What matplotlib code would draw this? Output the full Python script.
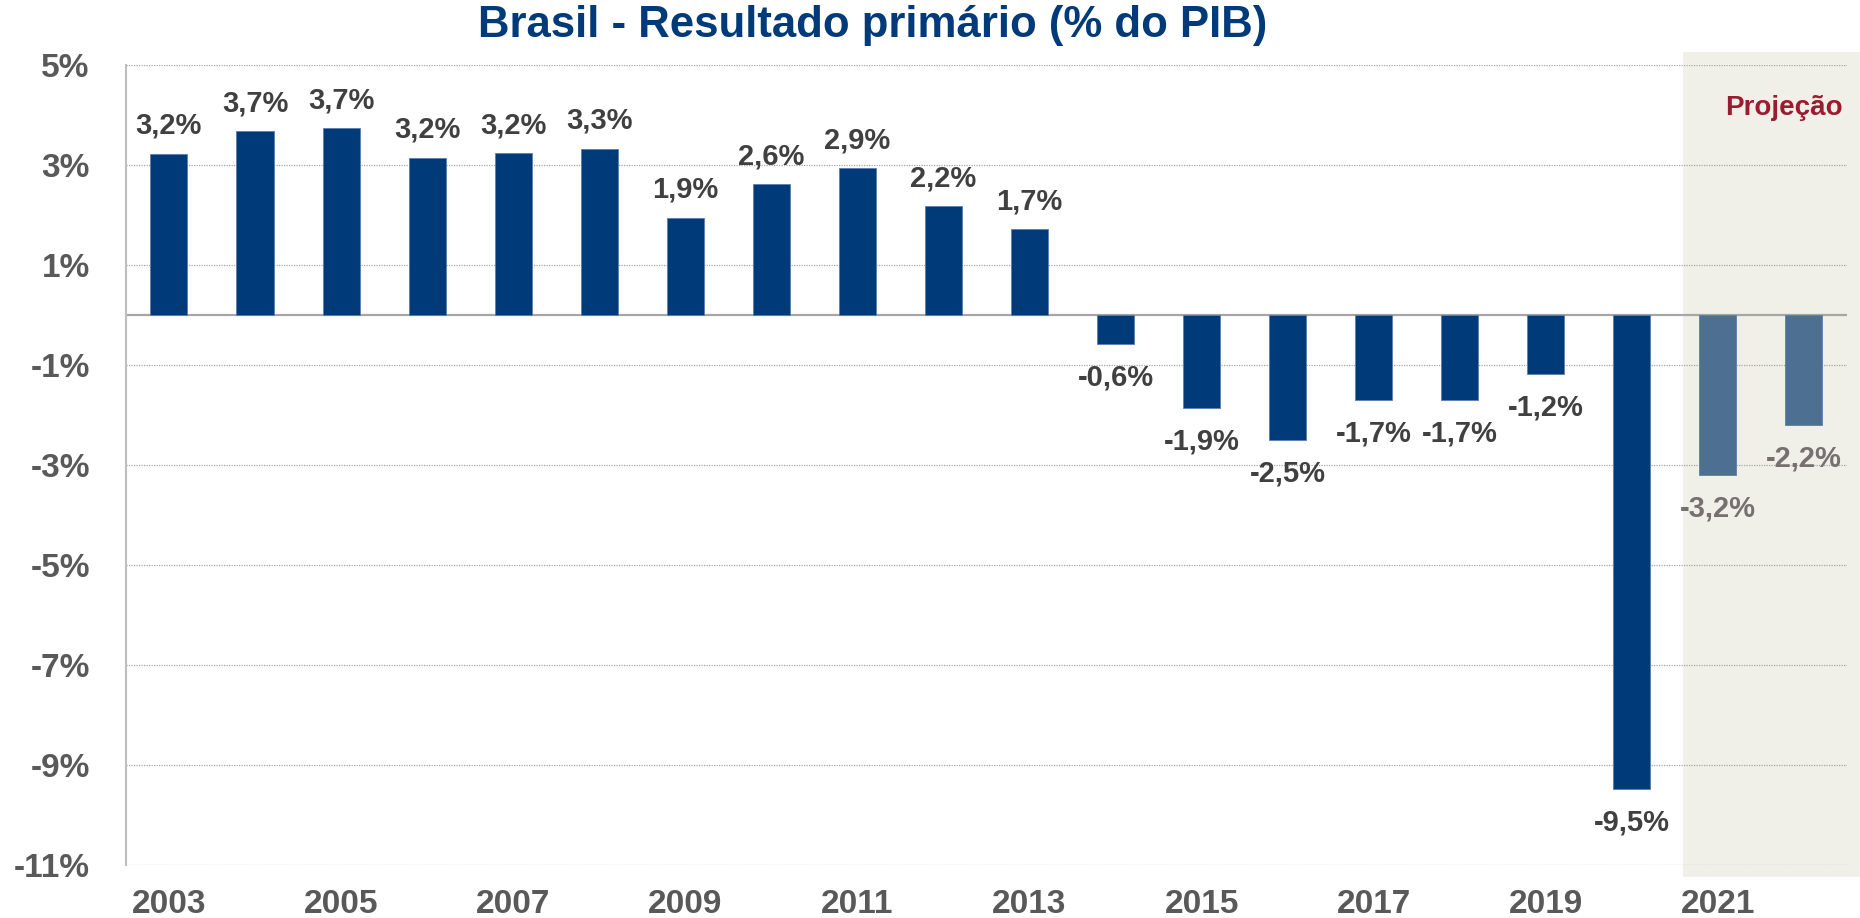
import matplotlib
matplotlib.use("Agg")
import matplotlib.pyplot as plt
from matplotlib.patches import Rectangle

plt.rcParams["font.family"] = ["Liberation Sans", "DejaVu Sans"]
plt.rcParams["font.weight"] = "bold"

anos = list(range(2003, 2023))
resultado = [3.23, 3.68, 3.74, 3.15, 3.24, 3.33, 1.95, 2.62, 2.94, 2.18, 1.72,
             -0.57, -1.85, -2.49, -1.69, -1.69, -1.18, -9.47, -3.20, -2.20]
rotulos = ["3,2%", "3,7%", "3,7%", "3,2%", "3,2%", "3,3%", "1,9%", "2,6%", "2,9%", "2,2%", "1,7%",
           "-0,6%", "-1,9%", "-2,5%", "-1,7%", "-1,7%", "-1,2%", "-9,5%", "-3,2%", "-2,2%"]
projecao = [False] * 18 + [True, True]
y_ticks = [5, 3, 1, -1, -3, -5, -7, -9, -11]

azul = "#003A78"
azul_proj = "#4D6F91"
cinza_txt = "#595959"

fig = plt.figure(figsize=(18.6, 9.18), dpi=100)
ax = fig.add_axes([0.0677, 0.0575, 0.9253, 0.8713])

x = list(range(len(anos)))
cores = [azul_proj if p else azul for p in projecao]
ax.bar(x, resultado, width=0.43, color=cores, edgecolor="#5a7fae", linewidth=0.6, zorder=3)

# area de projecao (2021-2022)
ax.add_patch(Rectangle((17.6, -11.24), 2.5, 16.5, facecolor="#F0F0E9", edgecolor="none",
                       zorder=0, clip_on=False))
ax.text(19.45, 4.15, "Projeção", color="#9B1B30", fontsize=20, fontweight="bold",
        ha="right", va="center", zorder=4)

for xi, v, lab, p in zip(x, resultado, rotulos, projecao):
    cor = "#767171" if p else "#404040"
    if v >= 0:
        ax.annotate(lab, (xi, v), xytext=(0, 10), textcoords="offset points",
                    ha="center", va="bottom", fontsize=21, color=cor, fontweight="bold")
    else:
        ax.annotate(lab, (xi, v), xytext=(0, -14), textcoords="offset points",
                    ha="center", va="top", fontsize=21, color=cor, fontweight="bold")

ax.set_xlim(-0.5, 19.5)
ax.set_ylim(-11, 5)
ax.set_yticks(y_ticks)
ax.set_yticklabels([f"{t}%" for t in y_ticks])
ax.set_xticks(x[::2])
ax.set_xticklabels([str(a) for a in anos[::2]])
ax.tick_params(length=0, labelsize=24, labelcolor=cinza_txt)
ax.tick_params(axis="y", pad=26)
ax.tick_params(axis="x", pad=17)
for lab in ax.get_xticklabels() + ax.get_yticklabels():
    lab.set_fontweight("bold")

ax.yaxis.grid(True, linestyle=(0, (1, 1)), color="#A6A6A6", linewidth=0.9, zorder=1)
ax.axhline(0, color="#A6A6A6", linewidth=1.6, zorder=2)
for s in ["top", "right", "bottom"]:
    ax.spines[s].set_visible(False)
ax.spines["left"].set_color("#BFBFBF")
ax.spines["left"].set_linewidth(1.5)
ax.set_facecolor("none")

fig.text(0.4694, 0.972, "Brasil - Resultado primário (% do PIB)", color=azul,
         fontsize=31.5, fontweight="bold", ha="center", va="center")

fig.savefig("out.png", dpi=100)
